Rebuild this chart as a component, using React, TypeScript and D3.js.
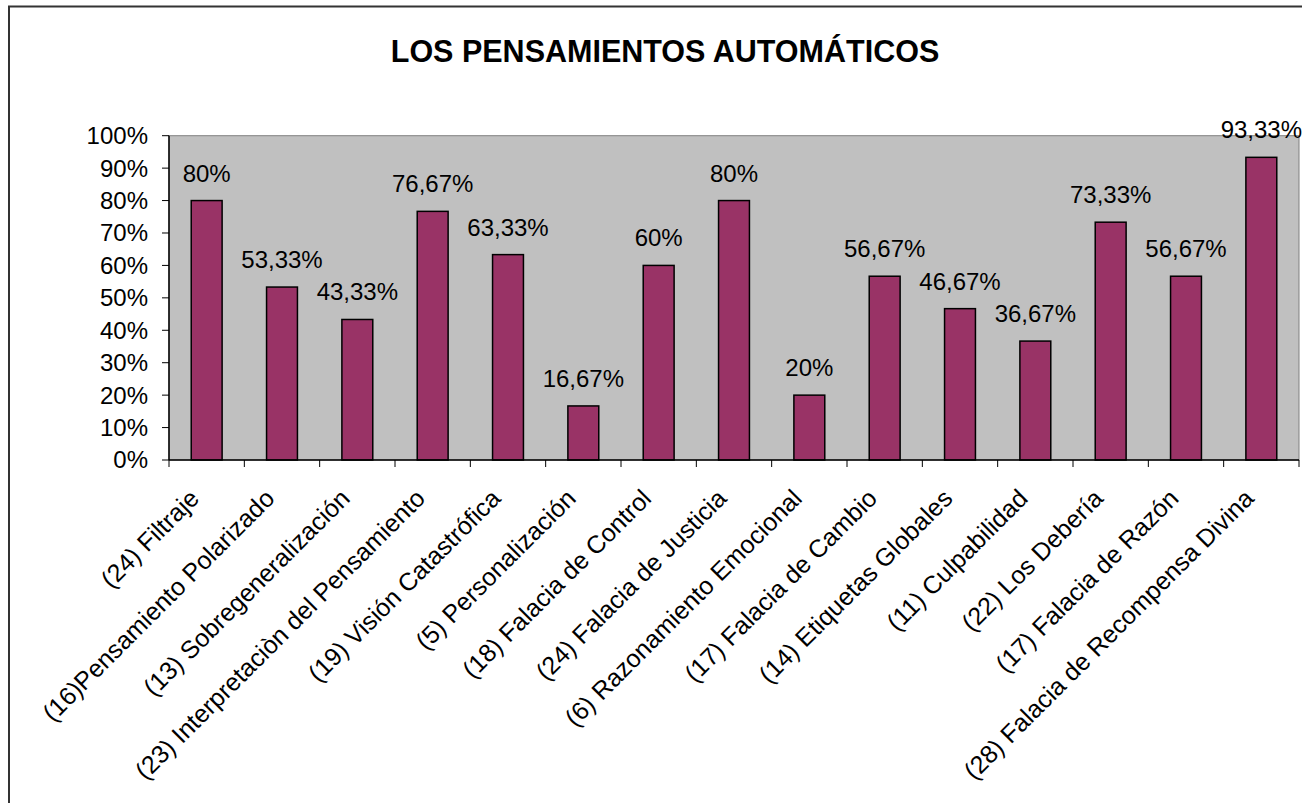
import React, { useEffect } from "react";
import * as d3 from "d3";

const categories = [
  "(24) Filtraje",
  "(16)Pensamiento Polarizado",
  "(13) Sobregeneralización",
  "(23) Interpretaciòn del Pensamiento",
  "(19) Visión Catastrófica",
  "(5) Personalización",
  "(18) Falacia de Control",
  "(24) Falacia de Justicia",
  "(6) Razonamiento Emocional",
  "(17) Falacia de Cambio",
  "(14) Etiquetas Globales",
  "(11) Culpabilidad",
  "(22) Los Debería",
  "(17) Falacia de Razón",
  "(28) Falacia de Recompensa Divina",
];
const values = [0.8, 0.5333, 0.4333, 0.7667, 0.6333, 0.1667, 0.6, 0.8, 0.2, 0.5667, 0.4667, 0.3667, 0.7333, 0.5667, 0.9333];
const valueLabels = ["80%", "53,33%", "43,33%", "76,67%", "63,33%", "16,67%", "60%", "80%", "20%", "56,67%", "46,67%", "36,67%", "73,33%", "56,67%", "93,33%"];
const yTicks = [0, 0.1, 0.2, 0.3, 0.4, 0.5, 0.6, 0.7, 0.8, 0.9, 1];
const yTickLabels = ["0%", "10%", "20%", "30%", "40%", "50%", "60%", "70%", "80%", "90%", "100%"];
const title = "LOS PENSAMIENTOS AUTOMÁTICOS";

const W = 1302;
const H = 803;
const plot = { left: 169, right: 1299, top: 135.7, bottom: 460 };
const FONT = "'Liberation Sans', Arial, sans-serif";

export default function App() {
  useEffect(() => {
    document.body.style.margin = "0";
    document.body.style.overflow = "hidden";
  }, []);

  const x = d3.scaleBand<string>().domain(categories).range([plot.left, plot.right]).paddingInner(0).paddingOuter(0);
  const y = d3.scaleLinear().domain([0, 1]).range([plot.bottom, plot.top]);
  const bw = x.bandwidth() * 0.41;
  const boundaries = d3.range(categories.length + 1).map((i) => plot.left + i * x.step());

  return (
    <svg width={W} height={H} style={{ position: "absolute", left: 0, top: 0, background: "#fff" }} fontFamily={FONT}>
      <rect x={9} y={6.5} width={1320} height={820} fill="#fff" stroke="#333" strokeWidth={2} />
      <text x={665} y={62} textAnchor="middle" fontSize={30.5} fontWeight="bold" fill="#000">
        {title}
      </text>
      {/* plot area */}
      <rect x={plot.left} y={plot.top} width={plot.right - plot.left} height={plot.bottom - plot.top} fill="#C0C0C0" stroke="#808080" strokeWidth={1} />
      {/* bars */}
      {categories.map((c, i) => {
        const cx = (x(c) as number) + x.bandwidth() / 2;
        return (
          <rect key={c} x={cx - bw / 2} y={y(values[i])} width={bw} height={y(0) - y(values[i])} fill="#993366" stroke="#000" strokeWidth={1.5} />
        );
      })}
      {/* value labels */}
      {categories.map((c, i) => {
        const cx = (x(c) as number) + x.bandwidth() / 2;
        return (
          <text key={c} x={cx} y={y(values[i]) - 19} textAnchor="middle" fontSize={24} fill="#000">
            {valueLabels[i]}
          </text>
        );
      })}
      {/* y axis */}
      <line x1={plot.left} x2={plot.left} y1={plot.top} y2={plot.bottom} stroke="#000" strokeWidth={1.5} />
      {yTicks.map((t, i) => (
        <g key={t}>
          <line x1={plot.left - 7} x2={plot.left} y1={y(t)} y2={y(t)} stroke="#000" strokeWidth={1} />
          <text x={148} y={y(t)} dy="0.35em" textAnchor="end" fontSize={24} fill="#000">
            {yTickLabels[i]}
          </text>
        </g>
      ))}
      {/* x axis */}
      <line x1={plot.left} x2={plot.right} y1={plot.bottom} y2={plot.bottom} stroke="#000" strokeWidth={1.5} />
      {boundaries.map((b, i) => (
        <line key={i} x1={b} x2={b} y1={plot.bottom} y2={plot.bottom + 7} stroke="#000" strokeWidth={1} />
      ))}
      {categories.map((c) => {
        const cx = (x(c) as number) + x.bandwidth() / 2;
        return (
          <text key={c} transform={`translate(${cx - 6},${500}) rotate(-45)`} textAnchor="end" fontSize={25} fill="#000">
            {c}
          </text>
        );
      })}
    </svg>
  );
}
